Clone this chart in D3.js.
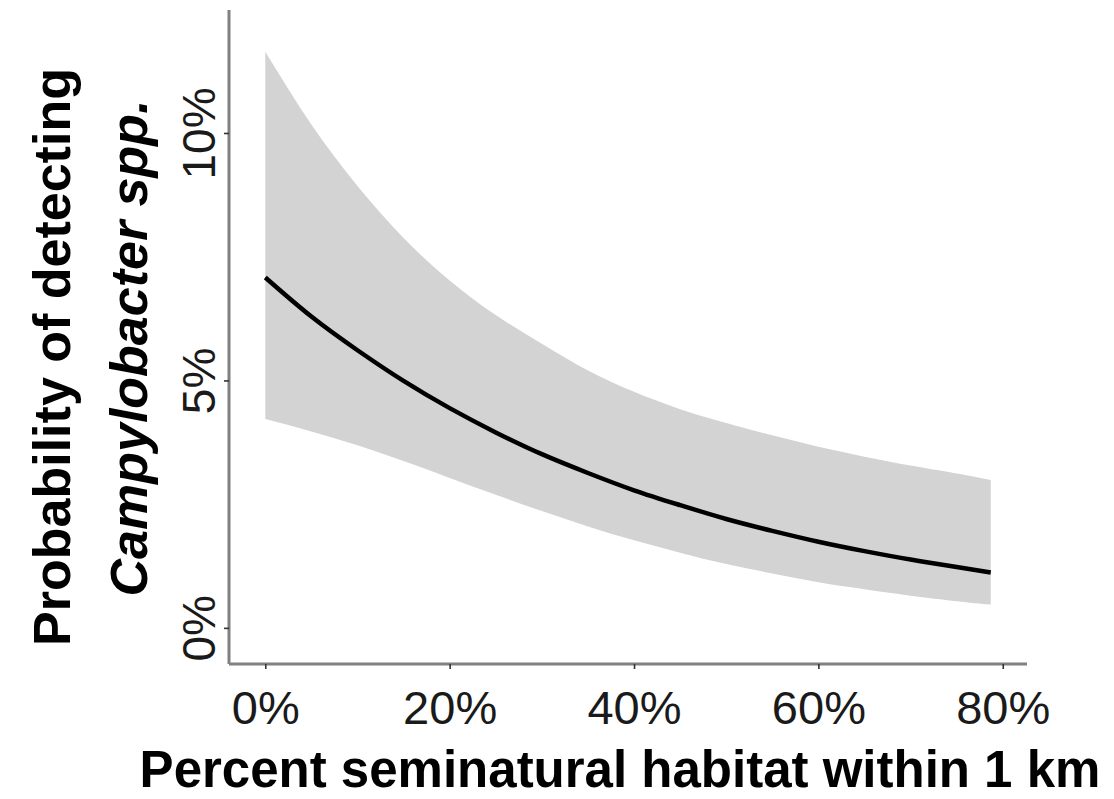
<!DOCTYPE html>
<html>
<head>
<meta charset="utf-8">
<script src="https://cdn.jsdelivr.net/npm/d3@7"></script>
<style>
  html, body { margin: 0; padding: 0; background: #fff; }
  svg { display: block; }
  text { font-family: "Liberation Sans", Arial, Helvetica, sans-serif; }
</style>
</head>
<body>
<svg id="chart" width="1114" height="799"></svg>
<script>
// Percent seminatural habitat within 1 km (x, in %)
const habitatPct = [0, 5, 10, 15, 20, 25, 30, 35, 40, 45, 50, 55, 60, 65, 70, 75, 78.7];
// Fitted probability of detection (%)
const fitPct   = [7.08, 6.29, 5.61, 4.99, 4.44, 3.95, 3.51, 3.13, 2.78, 2.48, 2.20, 1.96, 1.74, 1.55, 1.38, 1.23, 1.12];
// 95% confidence band, lower and upper (%)
const lowerPct = [4.22, 3.97, 3.69, 3.37, 3.03, 2.69, 2.36, 2.05, 1.77, 1.52, 1.29, 1.10, 0.92, 0.78, 0.65, 0.54, 0.47];
const upperPct = [11.64, 10.17, 8.93, 7.88, 7.02, 6.32, 5.74, 5.20, 4.77, 4.42, 4.14, 3.89, 3.66, 3.46, 3.28, 3.12, 2.99];

const xTicks = [0, 20, 40, 60, 80];
const yTicks = [0, 5, 10];

const xTitle = "Percent seminatural habitat within 1 km";
const yTitle1 = "Probability of detecting";
const yTitle2 = "Campylobacter spp.";

const rows = habitatPct.map((x, i) => ({ x, fit: fitPct[i], lo: lowerPct[i], hi: upperPct[i] }));

const svg = d3.select("#chart");

// Panel edges
const panel = { left: 229, right: 1027, top: 10, bottom: 664 };

const x = d3.scaleLinear().domain([-3.935, 82.63]).range([panel.left, panel.right]);
const y = d3.scaleLinear().domain([-0.73, 12.485]).range([panel.bottom, panel.top]);

const curve = d3.curveNatural;

// Confidence ribbon
svg.append("path")
  .datum(rows)
  .attr("fill", "#d3d3d3")
  .attr("d", d3.area().curve(curve).x(d => x(d.x)).y0(d => y(d.lo)).y1(d => y(d.hi)));

// Fitted line
svg.append("path")
  .datum(rows)
  .attr("fill", "none")
  .attr("stroke", "#000")
  .attr("stroke-width", 4.5)
  .attr("d", d3.line().curve(curve).x(d => x(d.x)).y(d => y(d.fit)));

// X axis
const gx = svg.append("g")
  .attr("transform", `translate(0,${panel.bottom})`)
  .call(d3.axisBottom(x).tickValues(xTicks).tickSize(5).tickPadding(22).tickFormat(d => d + "%"));
gx.select(".domain").attr("stroke", "#808080").attr("stroke-width", 3)
  .attr("d", `M${panel.left},0H${panel.right}`);
gx.selectAll(".tick line").attr("stroke", "#333").attr("stroke-width", 1.6);
gx.selectAll(".tick text")
  .attr("fill", "#1a1a1a")
  .style("font-size", "47px")
  .attr("dy", "0.71em");

// Y axis
const gy = svg.append("g")
  .attr("transform", `translate(${panel.left},0)`)
  .call(d3.axisLeft(y).tickValues(yTicks).tickSize(5).tickPadding(0).tickFormat(d => d + "%"));
gy.select(".domain").attr("stroke", "#808080").attr("stroke-width", 3)
  .attr("d", `M0,${panel.top}V${panel.bottom}`);
gy.selectAll(".tick line").attr("stroke", "#333").attr("stroke-width", 1.6);
gy.selectAll(".tick text")
  .attr("fill", "#1a1a1a")
  .style("font-size", "46px")
  .attr("x", null).attr("dy", null)
  .attr("text-anchor", "middle")
  .attr("transform", "translate(-14,0) rotate(-90)");

// Axis titles
svg.append("text")
  .attr("x", 620).attr("y", 787)
  .attr("text-anchor", "middle")
  .style("font-size", "51px").style("font-weight", "bold")
  .text(xTitle);

svg.append("text")
  .attr("transform", "translate(70,357) rotate(-90)")
  .attr("text-anchor", "middle")
  .style("font-size", "52px").style("font-weight", "bold")
  .text(yTitle1);

svg.append("text")
  .attr("transform", "translate(147,348) rotate(-90)")
  .attr("text-anchor", "middle")
  .style("font-size", "52px").style("font-weight", "bold").style("font-style", "italic")
  .text(yTitle2);
</script>
</body>
</html>
